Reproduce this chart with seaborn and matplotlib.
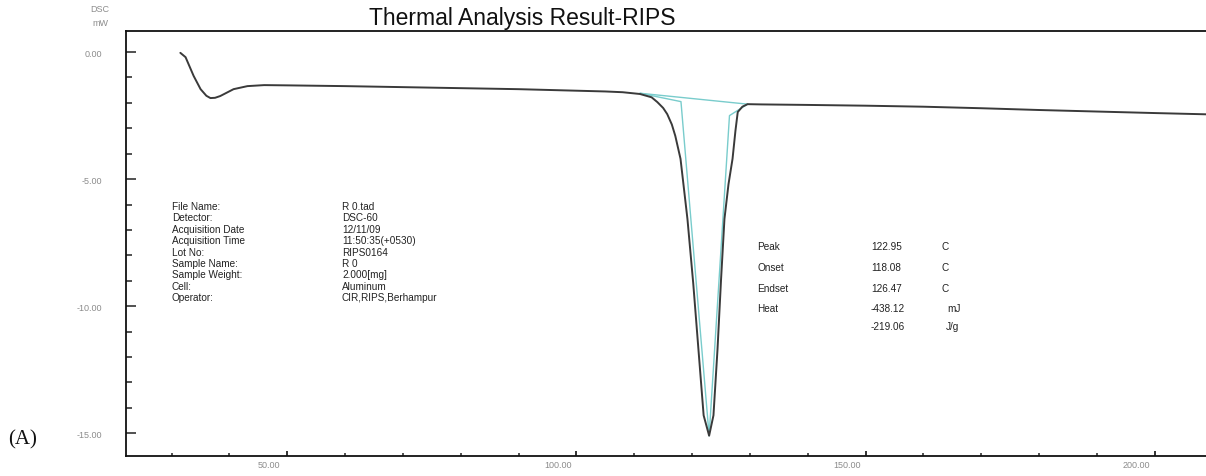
import matplotlib
matplotlib.use("Agg")
import matplotlib.pyplot as plt
import matplotlib.transforms as mtransforms
from matplotlib.ticker import MultipleLocator, FixedLocator
import numpy as np
import pandas as pd
import seaborn as sns

# DSC trace: temperature (C) vs heat flow (mW)
temp_c = [31.5, 32.4, 33.8, 35.0, 36.0, 36.7, 37.5, 38.4, 40.7, 43.1, 46.0,
          50.0, 60.0, 70.0, 80.0, 90.0, 100.0, 105.0, 108.0, 111.0, 113.0,
          114.0, 115.0, 115.7, 116.5, 117.1, 118.0, 119.2, 120.2, 121.1,
          122.0, 122.95, 123.7, 124.4, 125.0, 125.6, 126.3, 127.0, 127.5,
          127.9, 128.7, 129.6, 132.0, 140.0, 150.0, 160.0, 170.0, 180.0,
          190.0, 200.0, 209.0]
heat_flow_mw = [-0.03, -0.20, -0.94, -1.46, -1.72, -1.81, -1.80, -1.73, -1.46,
                -1.34, -1.30, -1.31, -1.34, -1.38, -1.42, -1.46, -1.52, -1.55,
                -1.58, -1.65, -1.78, -1.97, -2.20, -2.44, -2.85, -3.30, -4.20,
                -6.57, -9.10, -11.70, -14.30, -15.10, -14.30, -11.70, -9.00,
                -6.57, -5.20, -4.20, -3.10, -2.36, -2.15, -2.05, -2.06, -2.08,
                -2.11, -2.15, -2.21, -2.28, -2.34, -2.40, -2.45]

# peak analysis construction lines (baseline, onset and endset tangents)
baseline_t = [111.0, 129.6]
baseline_v = [-1.62, -2.05]
onset_t = [111.0, 118.08, 122.95]
onset_v = [-1.62, -1.95, -15.10]
endset_t = [122.95, 126.47, 129.6]
endset_v = [-15.10, -2.50, -2.05]

info_keys = ["File Name:", "Detector:", "Acquisition Date", "Acquisition Time",
             "Lot No:", "Sample Name:", "Sample Weight:", "Cell:", "Operator:"]
info_vals = ["R 0.tad", "DSC-60", "12/11/09", "11:50:35(+0530)", "RIPS0164",
             "R 0", "2.000[mg]", "Aluminum", "CIR,RIPS,Berhampur"]

result_keys = ["Peak", "Onset", "Endset", "Heat", ""]
result_vals = ["122.95", "118.08", "126.47", "-438.12", "-219.06"]
result_units = ["C", "C", "C", "mJ", "J/g"]

x_major = [50, 100, 150, 200]
x_labels = ["50.00", "100.00", "150.00", "200.00"]
y_major = [0, -5, -10, -15]
y_labels = ["0.00", "-5.00", "-10.00", "-15.00"]

sns.set_theme(style="white")
narrow = ["Liberation Sans Narrow", "Liberation Sans", "DejaVu Sans"]
plt.rcParams["font.family"] = ["Liberation Sans", "DejaVu Sans"]

W, H = 1206, 477
fig = plt.figure(figsize=(W / 100, H / 100), dpi=100)
ax = fig.add_axes([126 / W, 1 - 457 / H, 1 - 126 / W + 0.002, (457 - 32) / H])

df = pd.DataFrame({"Temp": temp_c, "DSC": heat_flow_mw})
ax.plot(baseline_t, baseline_v, color="#79cccc", lw=1.0, zorder=1)
ax.plot(onset_t, onset_v, color="#79cccc", lw=1.0, zorder=1)
ax.plot(endset_t, endset_v, color="#79cccc", lw=1.0, zorder=1)
sns.lineplot(data=df, x="Temp", y="DSC", ax=ax, color="#3a3a3a", lw=1.4,
             estimator=None, zorder=2)

ax.set_xlim(22.1, 209.3)
ax.set_ylim(-15.9, 0.83)
ax.set_xlabel("")
ax.set_ylabel("")

for side in ["left", "top", "bottom"]:
    ax.spines[side].set_visible(True)
    ax.spines[side].set_color("#111111")
    ax.spines[side].set_linewidth(1.3)
ax.spines["right"].set_visible(False)

ax.xaxis.set_major_locator(FixedLocator(x_major))
ax.xaxis.set_minor_locator(MultipleLocator(10))
ax.yaxis.set_major_locator(FixedLocator(y_major))
ax.yaxis.set_minor_locator(MultipleLocator(1))
ax.set_xticklabels(x_labels)
ax.set_yticklabels(y_labels)
ax.tick_params(axis="both", which="both", direction="in", color="#222222",
               labelcolor="#8c8c8c", labelsize=6.5, bottom=True, left=True,
               top=False, right=False)
ax.tick_params(axis="x", which="major", length=3.5, width=1.3, pad=3)
ax.tick_params(axis="x", which="minor", length=2, width=1.1)
ax.tick_params(axis="y", which="major", length=7, width=1.1, pad=17)
ax.tick_params(axis="y", which="minor", length=4, width=1.1)
for lab in ax.get_xticklabels() + ax.get_yticklabels():
    lab.set_fontfamily(narrow)
shift = mtransforms.ScaledTranslation(-0.18, 0, fig.dpi_scale_trans)
for lab in ax.get_xticklabels():
    lab.set_transform(lab.get_transform() + shift)

# headers
fig.text(522 / W, 1 - 18 / H, "Thermal Analysis Result-RIPS", ha="center",
         va="center", fontsize=16.5, color="#111111")
fig.text(100 / W, 1 - 10 / H, "DSC", ha="center", va="center", fontsize=6.5,
         color="#8c8c8c", family=narrow)
fig.text(100 / W, 1 - 23 / H, "mW", ha="center", va="center", fontsize=6.5,
         color="#8c8c8c", family=narrow)
fig.text(8 / W, 1 - 440 / H, "(A)", ha="left", va="center", fontsize=15,
         family=["Liberation Serif", "DejaVu Serif"], color="#111111")

# sample information block
for i, (k, v) in enumerate(zip(info_keys, info_vals)):
    y = 1 - (207 + i * 11.4) / H
    fig.text(172 / W, y, k, ha="left", va="center", fontsize=7.2,
             family=narrow, color="#222222")
    fig.text(342 / W, y, v, ha="left", va="center", fontsize=7.2,
             family=narrow, color="#222222")

# peak results block
result_y = [247, 268, 289, 309, 327]
unit_x = [942, 942, 942, 947, 946]
for k, v, u, yy, ux in zip(result_keys, result_vals, result_units, result_y, unit_x):
    y = 1 - yy / H
    if k:
        fig.text(757 / W, y, k, ha="left", va="center", fontsize=7.2,
                 family=narrow, color="#222222")
    fig.text(871 / W, y, v, ha="left", va="center", fontsize=7.2,
             family=narrow, color="#222222")
    fig.text(ux / W, y, u, ha="left", va="center", fontsize=7.2,
             family=narrow, color="#222222")

fig.savefig("out.png", dpi=100)
